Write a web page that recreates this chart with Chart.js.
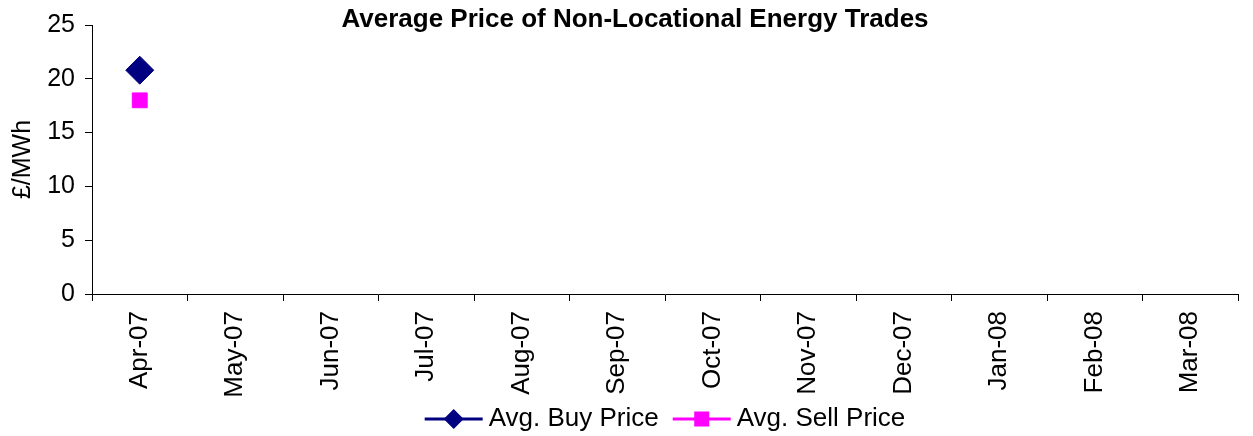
<!DOCTYPE html>
<html>
<head>
<meta charset="utf-8">
<script src="https://cdn.jsdelivr.net/npm/chart.js@4/dist/chart.umd.min.js"></script>
<style>
  html, body { margin: 0; padding: 0; background: #fff; }
  #wrap { width: 1253px; height: 436px; }
</style>
</head>
<body>
<div id="wrap"><canvas id="c" width="1253" height="436"></canvas></div>
<script>
// ── Data ─────────────────────────────────────────────────────────────
const MONTHS = ['Apr-07','May-07','Jun-07','Jul-07','Aug-07','Sep-07',
                'Oct-07','Nov-07','Dec-07','Jan-08','Feb-08','Mar-08'];
const BUY_PRICE  = [20.8, null, null, null, null, null, null, null, null, null, null, null];
const SELL_PRICE = [18.0, null, null, null, null, null, null, null, null, null, null, null];
const Y_TICKS = [0, 5, 10, 15, 20, 25];

const FONT = '"Liberation Sans", Arial, sans-serif';
const NAVY = '#000080';
const MAGENTA = '#FF00FF';

// title drawn over the top of the plot, like the Excel original
const titlePlugin = {
  id: 'topTitle',
  afterDraw(chart) {
    const c = chart.ctx;
    c.save();
    c.font = 'bold 26px ' + FONT;
    c.fillStyle = '#000';
    c.textAlign = 'center';
    c.textBaseline = 'middle';
    c.fillText('Average Price of Non-Locational Energy Trades', 635, 20);
    c.restore();
  }
};

// legend with line + marker, Excel style
const legendPlugin = {
  id: 'lineLegend',
  afterDraw(chart) {
    const c = chart.ctx;
    const items = chart.data.datasets;
    c.save();
    c.font = '26px ' + FONT;
    c.textBaseline = 'middle';
    const lineW = 58, gap = 6, sep = 14;
    let total = 0;
    items.forEach((d, i) => {
      total += lineW + gap + c.measureText(d.label).width + (i ? sep : 0);
    });
    const area = chart.chartArea;
    let x = (area.left + area.right) / 2 - total / 2;
    const y = 419;
    items.forEach((d, i) => {
      if (i) x += sep;
      c.strokeStyle = d.borderColor;
      c.lineWidth = 3;
      c.beginPath(); c.moveTo(x, y); c.lineTo(x + lineW, y); c.stroke();
      const cx = x + lineW / 2;
      c.fillStyle = d.pointBackgroundColor;
      c.beginPath();
      if (d.pointStyle === 'rectRot') {
        c.moveTo(cx - 10, y); c.lineTo(cx, y - 10);
        c.lineTo(cx + 10, y); c.lineTo(cx, y + 10);
      } else {
        c.rect(cx - 7.5, y - 7.5, 15, 15);
      }
      c.closePath(); c.fill();
      x += lineW + gap;
      c.fillStyle = '#000';
      c.fillText(d.label, x, y);
      x += c.measureText(d.label).width;
    });
    c.restore();
  }
};

new Chart(document.getElementById('c'), {
  type: 'line',
  data: {
    labels: MONTHS,
    datasets: [
      {
        label: 'Avg. Buy Price',
        data: BUY_PRICE,
        borderColor: NAVY,
        backgroundColor: NAVY,
        borderWidth: 3,
        pointStyle: 'rectRot',
        pointRadius: 14,
        pointBackgroundColor: NAVY,
        pointBorderColor: NAVY,
        pointBorderWidth: 1,
        spanGaps: false
      },
      {
        label: 'Avg. Sell Price',
        data: SELL_PRICE,
        borderColor: MAGENTA,
        backgroundColor: MAGENTA,
        borderWidth: 3,
        pointStyle: 'rect',
        pointRadius: 10.5,
        pointBackgroundColor: MAGENTA,
        pointBorderColor: MAGENTA,
        pointBorderWidth: 1,
        spanGaps: false
      }
    ]
  },
  options: {
    responsive: false,
    animation: false,
    layout: { padding: { left: 0, right: 6, top: 23, bottom: 0 } },
    plugins: {
      legend: { display: false },
      title: { display: false },
      tooltip: { enabled: false }
    },
    scales: {
      x: {
        offset: true,
        grid: { offset: true, drawOnChartArea: false, drawTicks: true, tickLength: 7, color: '#000' },
        border: { color: '#000', width: 1 },
        ticks: {
          color: '#000', font: { family: FONT, size: 26 },
          minRotation: 90, maxRotation: 90, padding: 10, autoSkip: false
        },
        afterFit: s => { s.height = 142; }
      },
      y: {
        min: 0, max: 25,
        afterBuildTicks: s => { s.ticks = Y_TICKS.map(v => ({ value: v })); },
        grid: { drawOnChartArea: false, drawTicks: true, tickLength: 7, color: '#000' },
        border: { color: '#000', width: 1 },
        ticks: { color: '#000', font: { family: FONT, size: 25 }, padding: 10 },
        title: {
          display: true, text: '£/MWh', color: '#000',
          font: { family: FONT, size: 25 }, padding: { top: 8, bottom: 0 }
        },
        afterFit: s => { s.width = 92; }
      }
    }
  },
  plugins: [titlePlugin, legendPlugin]
});
</script>
</body>
</html>
